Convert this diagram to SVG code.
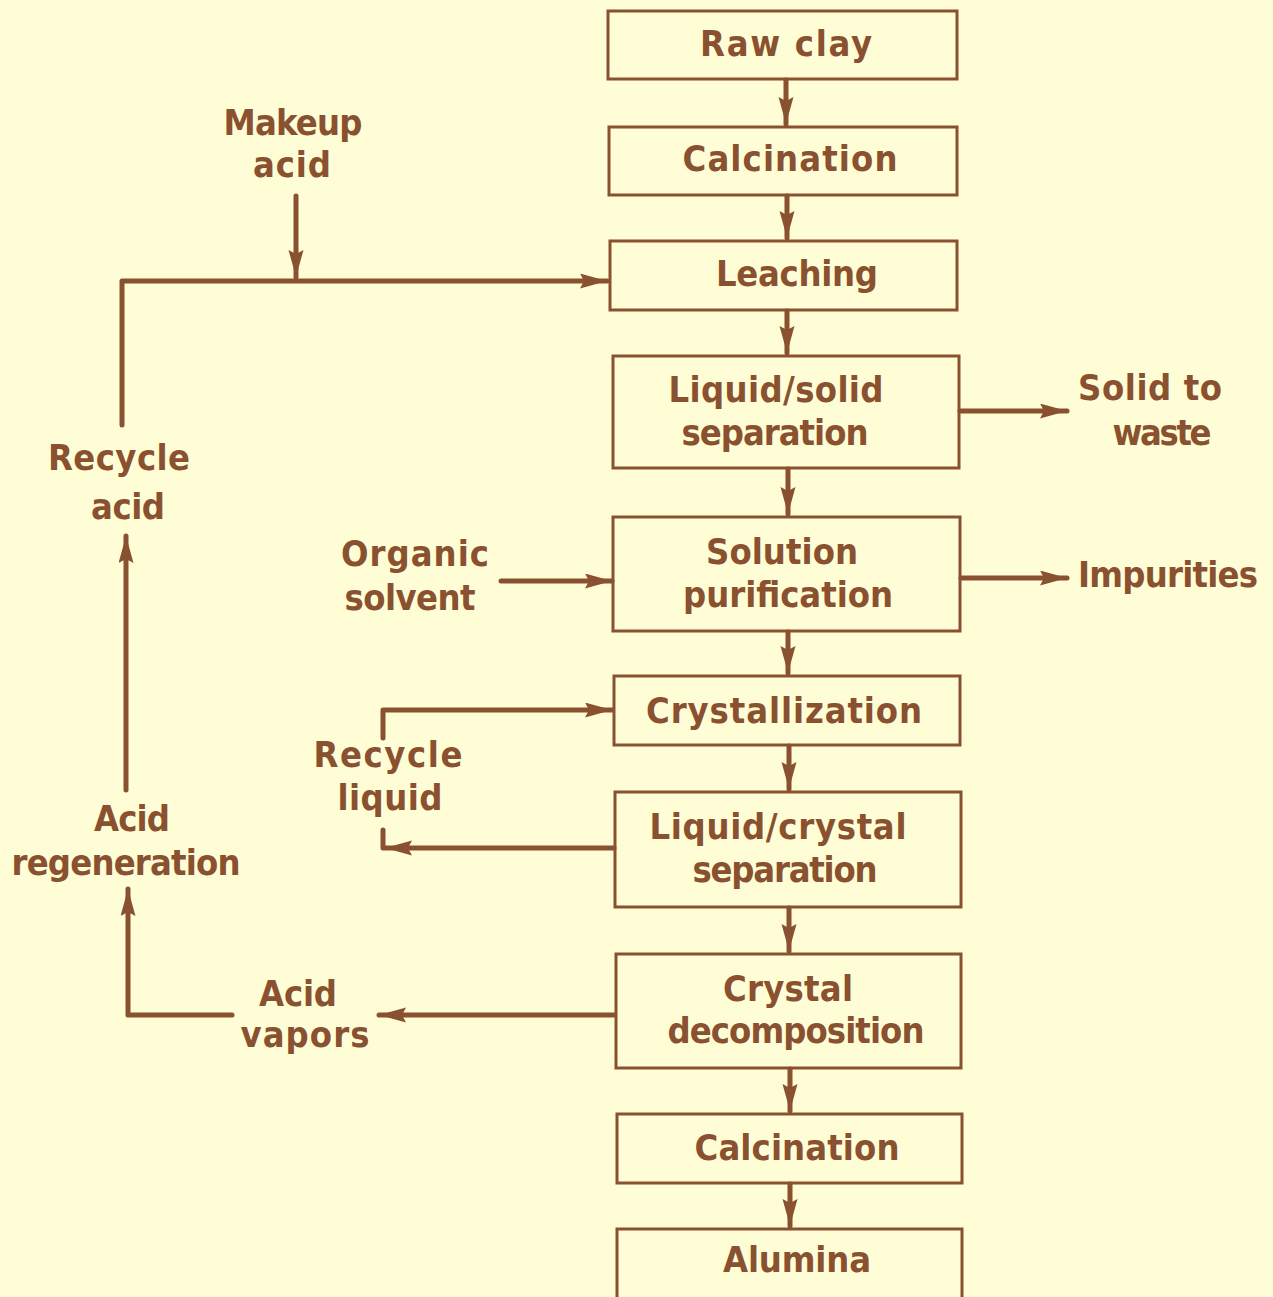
<svg xmlns="http://www.w3.org/2000/svg" width="1273" height="1297" viewBox="0 0 1273 1297">
<style>
.box{fill:none;stroke:#8a5130;stroke-width:3}
.c{fill:none;stroke:#8a5130;stroke-width:5;stroke-linecap:round;stroke-linejoin:round}
text{font-family:"DejaVu Sans Condensed","DejaVu Sans","Liberation Sans",sans-serif;font-stretch:condensed;font-weight:bold;font-size:36px;fill:#8a5130;text-anchor:middle}
</style>
<defs>
<marker id="ah" markerUnits="userSpaceOnUse" markerWidth="30" markerHeight="16" refX="27" refY="7.5" orient="auto">
<path d="M0,0 L27,7.5 L0,15 L4,7.5 z" fill="#8a5130"/>
</marker>
</defs>
<rect width="1273" height="1297" fill="#fefdd6"/>
<g id="connectors">
<path class="c" d="M786,80 V124" marker-end="url(#ah)"/>
<path class="c" d="M787,196 V238" marker-end="url(#ah)"/>
<path class="c" d="M787,311 V353" marker-end="url(#ah)"/>
<path class="c" d="M788,469 V514" marker-end="url(#ah)"/>
<path class="c" d="M788,632 V673" marker-end="url(#ah)"/>
<path class="c" d="M789,746 V789" marker-end="url(#ah)"/>
<path class="c" d="M789,908 V951" marker-end="url(#ah)"/>
<path class="c" d="M790,1069 V1111" marker-end="url(#ah)"/>
<path class="c" d="M790,1184 V1226" marker-end="url(#ah)"/>
<path class="c" d="M122,425 V281 H607" marker-end="url(#ah)"/>
<path class="c" d="M296,196 V277" marker-end="url(#ah)"/>
<path class="c" d="M960,411 H1067" marker-end="url(#ah)"/>
<path class="c" d="M961,578 H1067" marker-end="url(#ah)"/>
<path class="c" d="M501,581 H612" marker-end="url(#ah)"/>
<path class="c" d="M383,738 V710 H612" marker-end="url(#ah)"/>
<path class="c" d="M614,848 H385" marker-end="url(#ah)"/>
<path class="c" d="M383,848 V830"/>
<path class="c" d="M614,1015 H379" marker-end="url(#ah)"/>
<path class="c" d="M232,1015 H128 V889" marker-end="url(#ah)"/>
<path class="c" d="M126,790 V536" marker-end="url(#ah)"/>
</g>
<g id="raw-clay"><rect class="box" x="608" y="11" width="349" height="68"/><text x="786" y="56" textLength="172" lengthAdjust="spacing">Raw clay</text></g>
<g id="calcination-1"><rect class="box" x="609" y="127" width="348" height="68"/><text x="790" y="171" textLength="215" lengthAdjust="spacing">Calcination</text></g>
<g id="leaching"><rect class="box" x="610" y="241" width="347" height="69"/><text x="797" y="286" textLength="162" lengthAdjust="spacing">Leaching</text></g>
<g id="liquid-solid-separation"><rect class="box" x="613" y="356" width="346" height="112"/><text x="776" y="402" textLength="215" lengthAdjust="spacing">Liquid/solid</text><text x="775" y="445" textLength="187" lengthAdjust="spacing">separation</text></g>
<g id="solution-purification"><rect class="box" x="613" y="517" width="347" height="114"/><text x="782" y="564" textLength="152" lengthAdjust="spacing">Solution</text><text x="788" y="607" textLength="210" lengthAdjust="spacing">purification</text></g>
<g id="crystallization"><rect class="box" x="614" y="676" width="346" height="69"/><text x="784" y="723" textLength="276" lengthAdjust="spacing">Crystallization</text></g>
<g id="liquid-crystal-separation"><rect class="box" x="615" y="792" width="346" height="115"/><text x="778" y="839" textLength="257" lengthAdjust="spacing">Liquid/crystal</text><text x="785" y="882" textLength="185" lengthAdjust="spacing">separation</text></g>
<g id="crystal-decomposition"><rect class="box" x="616" y="954" width="345" height="114"/><text x="788" y="1001" textLength="130" lengthAdjust="spacing">Crystal</text><text x="796" y="1043" textLength="257" lengthAdjust="spacing">decomposition</text></g>
<g id="calcination-2"><rect class="box" x="617" y="1114" width="345" height="69"/><text x="797" y="1160" textLength="205" lengthAdjust="spacing">Calcination</text></g>
<g id="alumina"><rect class="box" x="617" y="1229" width="345" height="70"/><text x="797" y="1272" textLength="148" lengthAdjust="spacing">Alumina</text></g>
<g id="makeup-acid"><text x="293" y="135" textLength="139" lengthAdjust="spacing">Makeup</text><text x="292" y="177" textLength="78" lengthAdjust="spacing">acid</text></g>
<g id="solid-to-waste"><text x="1150" y="400" textLength="144" lengthAdjust="spacing">Solid to</text><text x="1162" y="445" textLength="99" lengthAdjust="spacing">waste</text></g>
<g id="impurities"><text x="1168" y="587" textLength="180" lengthAdjust="spacing">Impurities</text></g>
<g id="organic-solvent"><text x="415" y="566" textLength="148" lengthAdjust="spacing">Organic</text><text x="410" y="610" textLength="131" lengthAdjust="spacing">solvent</text></g>
<g id="recycle-acid"><text x="119" y="470" textLength="142" lengthAdjust="spacing">Recycle</text><text x="128" y="519" textLength="74" lengthAdjust="spacing">acid</text></g>
<g id="recycle-liquid"><text x="388" y="767" textLength="149" lengthAdjust="spacing">Recycle</text><text x="390" y="810" textLength="105" lengthAdjust="spacing">liquid</text></g>
<g id="acid-regeneration"><text x="132" y="831" textLength="76" lengthAdjust="spacing">Acid</text><text x="126" y="875" textLength="229" lengthAdjust="spacing">regeneration</text></g>
<g id="acid-vapors"><text x="298" y="1006" textLength="78" lengthAdjust="spacing">Acid</text><text x="305" y="1047" textLength="129" lengthAdjust="spacing">vapors</text></g>
</svg>
